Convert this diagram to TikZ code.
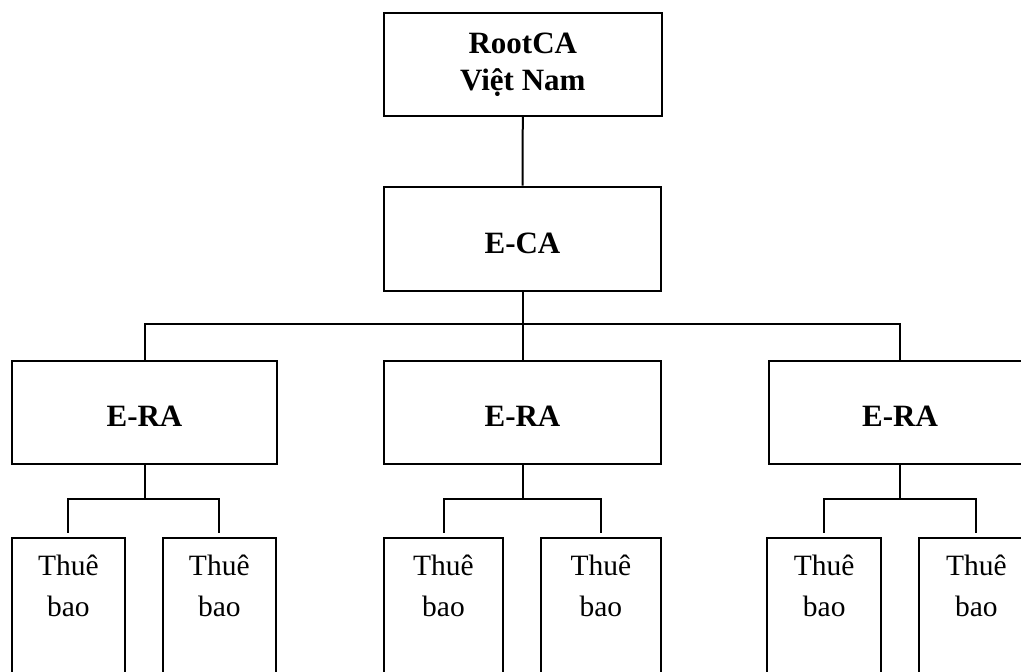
\documentclass[tikz,border=0pt]{standalone}
\usepackage{fontspec}
\setmainfont{Liberation Serif}
\newcommand\twol[2]{\begin{tabular}[t]{@{}c@{}}#1\\#2\end{tabular}}
\begin{document}
\begin{tikzpicture}[x=1pt,y=-1pt,
  box/.style={draw, line width=2pt, inner sep=0pt, align=center,
    font=\fontsize{31}{37}\selectfont\bfseries},
  one/.style={text height=28.5pt, text depth=0pt},
  leaf/.style={draw, line width=2pt, inner sep=0pt, minimum height=182.3pt},
  lt/.style={inner sep=0pt, anchor=base, font=\fontsize{29.5}{40.3}\selectfont},
  conn/.style={line width=2pt}]
\useasboundingbox (0,0) rectangle (1021,672);
\clip (0,0) rectangle (1021,672);
% top boxes
\node[box, minimum width=277.7pt, minimum height=103.3pt] (root) at (522.8,64.3) {RootCA\\Việt Nam};
\node[box, one, minimum width=277pt, minimum height=104.3pt] (eca) at (522.5,238.8) {E-CA};
% RA boxes
\node[box, one, minimum width=264.4pt, minimum height=103pt] (ra1) at (144.5,412.5) {E-RA};
\node[box, one, minimum width=277pt, minimum height=103pt] (ra2) at (522.5,412.5) {E-RA};
\node[box, one, minimum width=262pt, minimum height=103pt] (ra3) at (900,412.5) {E-RA};
% leaves
\node[leaf, minimum width=113.3pt] (l1) at (68.4,628.9) {};
\node[leaf, minimum width=113.3pt] (l2) at (219.3,628.9) {};
\node[leaf, minimum width=118.4pt] (m1) at (443.5,628.9) {};
\node[leaf, minimum width=120.3pt] (m2) at (600.9,628.9) {};
\node[leaf, minimum width=113.7pt] (r1) at (824.2,628.9) {};
\node[leaf, minimum width=114pt] (r2) at (976.3,628.9) {};
% leaf texts
\foreach \n in {l1,l2,m1,m2,r1,r2}{
  \node[lt] (t\n) at ([yshift=-39pt]\n.north) {\twol{Thuê}{bao}};
}
% levels
\coordinate (bus) at (0,324);
\coordinate (sb) at (0,499);
% connectors
\draw[conn] (root.south) -- (eca.north);
\draw[conn] (eca.south) -- (ra2.north);
\draw[conn] (ra1.north) -- (ra1.north |- bus) -- (ra3.north |- bus) -- (ra3.north);
\foreach \ra/\a/\b in {ra1/l1/l2, ra2/m1/m2, ra3/r1/r2}{
  \draw[conn] (\ra.south) -- (\ra.south |- sb);
  \draw[conn] ([yshift=4pt]\a.north) -- (\a.north |- sb) -- (\b.north |- sb) -- ([yshift=4pt]\b.north);
}
\end{tikzpicture}
\end{document}
